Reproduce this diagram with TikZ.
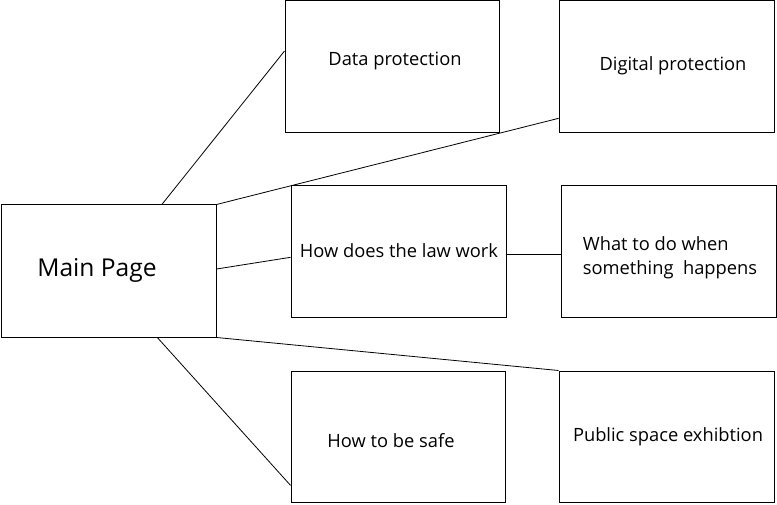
\documentclass[tikz,border=0pt]{standalone}
\usepackage{fontspec}
\setmainfont{Open Sans}
\usetikzlibrary{calc}
\tikzset{
  box/.style={draw=black, line width=1pt, rectangle, inner sep=0pt, fill=white},
  conn/.style={draw=black, line width=0.8pt},
  lbl/.style={font=\fontsize{18.3}{24}\selectfont, inner sep=0pt},
}
\begin{document}
\begin{tikzpicture}[x=1pt,y=-1pt]
\useasboundingbox (0,0) rectangle (777,505);
% boxes (corners from the reference)
\node[box, minimum width=215pt, minimum height=132pt] (main) at (108.5,271) {};
\node[box, minimum width=214pt, minimum height=132pt] (data) at (392,67) {};
\node[box, minimum width=215pt, minimum height=132pt] (digital) at (666.5,67) {};
\node[box, minimum width=215pt, minimum height=132pt] (law) at (398.5,252) {};
\node[box, minimum width=215pt, minimum height=132pt] (what) at (668.5,252) {};
\node[box, minimum width=214pt, minimum height=131pt] (safe) at (398,436.5) {};
\node[box, minimum width=215pt, minimum height=131pt] (public) at (666.5,436.5) {};
% texts
\node[font=\fontsize{24.6}{28}\selectfont, inner sep=0pt] (tmain) at (97,270) {Main Page};
\node[lbl] (tdata) at (395,61) {Data protection};
\node[lbl] (tdigital) at (673,66) {Digital protection};
\node[lbl] (tlaw) at (399,251) {How does the law work};
\node[lbl, align=left] (twhat) at (670,258) {What to do when\\something\ \ happens};
\node[lbl] (tsafe) at (391,441) {How to be safe};
\node[lbl] (tpublic) at (668,437) {Public space exhibtion};
% connectors
\draw[conn] ($(main.north west)!0.747!(main.north east)$) -- ($(data.north west)!0.38!(data.south west)$);
\draw[conn] (main.north east) -- ($(digital.north west)!0.886!(digital.south west)$);
\draw[conn] ($(main.north east)!0.485!(main.south east)$) -- ($(law.north west)!0.54!(law.south west)$);
\draw[conn] ($(law.north east)!0.515!(law.south east)$) -- ($(what.north west)!0.515!(what.south west)$);
\draw[conn] ($(main.south west)!0.726!(main.south east)$) -- ($(safe.north west)!0.87!(safe.south west)$);
\draw[conn] (main.south east) -- (public.north west);
\end{tikzpicture}
\end{document}
